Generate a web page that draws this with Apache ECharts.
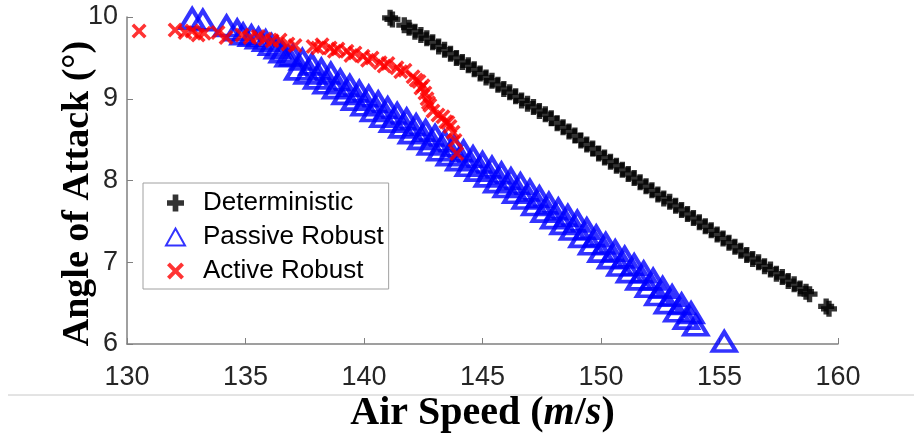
<!DOCTYPE html>
<html>
<head>
<meta charset="utf-8" />
<script src="https://cdn.jsdelivr.net/npm/echarts@6/dist/echarts.min.js"></script>
<style>
    html, body, #main { width: 914px; height: 439px; margin: 0; padding: 0; background: #fff; }
</style>
</head>
<body>
<div id="main"></div>
<script>
    var seriesNames = ['Deterministic', 'Passive Robust', 'Active Robust'];
    var xTicks = [130, 135, 140, 145, 150, 155, 160];
    var yTicks = [6, 7, 8, 9, 10];

    // values, [air speed, angle of attack]
    var deterministic = [
        [141.10, 9.99], [141.20, 9.97], [141.70, 9.90], [141.90, 9.87], [142.15, 9.82],
        [142.40, 9.78], [142.65, 9.74], [142.90, 9.69], [143.15, 9.64], [143.40, 9.60],
        [143.65, 9.55], [143.90, 9.50], [144.15, 9.45], [144.40, 9.41], [144.65, 9.36],
        [144.90, 9.31], [145.15, 9.26], [145.40, 9.22], [145.65, 9.17], [145.90, 9.12],
        [146.15, 9.08], [146.40, 9.03], [146.65, 8.98], [146.90, 8.94], [147.15, 8.90],
        [147.40, 8.85], [147.65, 8.81], [147.90, 8.76], [148.15, 8.70], [148.40, 8.65],
        [148.65, 8.60], [148.90, 8.55], [149.15, 8.49], [149.40, 8.44], [149.65, 8.39],
        [149.90, 8.33], [150.15, 8.28], [150.40, 8.23], [150.65, 8.18], [150.90, 8.13],
        [151.15, 8.08], [151.40, 8.03], [151.65, 7.98], [151.90, 7.93], [152.15, 7.88],
        [152.40, 7.83], [152.65, 7.78], [152.90, 7.74], [153.15, 7.69], [153.40, 7.64],
        [153.65, 7.59], [153.90, 7.54], [154.15, 7.49], [154.40, 7.44], [154.65, 7.39],
        [154.90, 7.34], [155.15, 7.29], [155.40, 7.24], [155.65, 7.19], [155.90, 7.14],
        [156.15, 7.09], [156.40, 7.04], [156.65, 7.00], [156.90, 6.95], [157.15, 6.91],
        [157.40, 6.86], [157.65, 6.82], [157.90, 6.77], [158.15, 6.73], [158.40, 6.68],
        [158.65, 6.64], [158.80, 6.61], [159.50, 6.46], [159.62, 6.43]
    ];

    var passiveRobust = [
        [132.75, 9.98], [133.20, 9.96], [134.20, 9.89], [134.65, 9.84], [134.90, 9.79],
        [135.25, 9.77], [135.55, 9.74], [135.85, 9.71], [136.10, 9.66], [136.35, 9.62],
        [136.55, 9.57], [136.80, 9.52],
        [137.0, 9.53], [137.2, 9.36], [137.4, 9.48], [137.6, 9.31], [137.8, 9.42],
        [138.0, 9.25], [138.2, 9.36], [138.4, 9.19], [138.6, 9.31], [138.8, 9.13],
        [139.0, 9.23], [139.2, 9.06], [139.4, 9.16], [139.6, 8.99], [139.8, 9.09],
        [140.0, 8.92], [140.2, 9.03], [140.4, 8.85], [140.6, 8.96], [140.8, 8.78],
        [141.0, 8.89], [141.2, 8.72], [141.4, 8.82], [141.6, 8.65], [141.8, 8.75],
        [142.0, 8.58], [142.2, 8.68], [142.4, 8.51], [142.6, 8.61], [142.8, 8.44],
        [143.0, 8.55], [143.2, 8.37], [143.4, 8.48], [143.6, 8.31], [143.8, 8.42],
        [144.0, 8.25], [144.2, 8.36], [144.4, 8.18], [144.6, 8.29], [144.8, 8.12],
        [145.0, 8.22], [145.2, 8.05], [145.4, 8.16], [145.6, 7.98], [145.8, 8.09],
        [146.0, 7.92], [146.2, 8.02], [146.4, 7.85], [146.6, 7.96], [146.8, 7.78],
        [147.0, 7.88], [147.2, 7.70], [147.4, 7.80], [147.6, 7.62], [147.8, 7.72],
        [148.0, 7.54], [148.2, 7.65], [148.4, 7.47], [148.6, 7.57], [148.8, 7.40],
        [149.0, 7.50], [149.2, 7.31], [149.4, 7.41], [149.6, 7.22], [149.8, 7.32],
        [150.0, 7.13], [150.2, 7.23], [150.4, 7.05], [150.6, 7.14], [150.8, 6.96],
        [151.0, 7.06], [151.2, 6.88], [151.4, 6.97], [151.6, 6.79], [151.8, 6.88],
        [152.0, 6.70], [152.2, 6.79], [152.4, 6.60], [152.6, 6.69], [152.8, 6.50],
        [153.0, 6.59], [153.2, 6.40], [153.4, 6.49], [153.6, 6.31], [153.8, 6.38],
        [154.0, 6.23],
        [155.20, 6.03]
    ];

    var activeRobust = [
        [130.51, 9.83], [132.03, 9.84], [132.45, 9.81], [132.74, 9.83], [133.00, 9.78],
        [133.25, 9.80], [133.84, 9.81], [134.18, 9.75], [134.85, 9.78], [135.19, 9.75],
        [135.53, 9.76], [135.82, 9.73], [136.12, 9.71], [136.46, 9.72], [136.79, 9.67],
        [137.09, 9.65], [137.85, 9.64], [138.05, 9.62], [138.23, 9.66], [138.57, 9.62],
        [138.75, 9.58], [138.90, 9.61], [139.28, 9.58], [139.45, 9.53], [139.62, 9.56],
        [139.96, 9.52], [140.15, 9.47], [140.34, 9.50], [140.68, 9.44], [140.85, 9.40],
        [141.01, 9.43], [141.39, 9.38], [141.55, 9.33], [141.73, 9.35], [142.07, 9.27],
        [142.20, 9.23], [142.32, 9.21], [142.40, 9.13], [142.49, 9.16], [142.57, 9.07],
        [142.66, 9.00], [142.72, 8.95], [142.78, 8.92], [142.91, 8.85], [143.12, 8.80],
        [143.33, 8.78], [143.45, 8.72], [143.54, 8.71], [143.63, 8.66], [143.76, 8.59],
        [143.84, 8.49], [143.92, 8.33]
    ];

    var plusPath = 'path://M4,0H8V4H12V8H8V12H4V8H0V4H4Z';
    var crossPath = 'path://M2,0L6,4L10,0L12,2L8,6L12,10L10,12L6,8L2,12L0,10L4,6L0,2Z';

    var chart = echarts.init(document.getElementById('main'));

    chart.setOption({
        animation: false,
        grid: { left: 127, right: 76, top: 17, bottom: 91 },
        legend: {
            orient: 'vertical',
            left: 143,
            top: 183,
            padding: [7, 5, 5, 22],
            itemGap: 8,
            itemWidth: 19,
            itemHeight: 17,
            borderColor: '#a0a0a0',
            borderWidth: 1,
            textStyle: { fontFamily: 'Liberation Sans', fontSize: 26, color: '#000', padding: [0, 0, 0, 13] },
            data: [
                { name: seriesNames[0], icon: plusPath },
                { name: seriesNames[1], icon: 'triangle' },
                { name: seriesNames[2], icon: crossPath }
            ]
        },
        xAxis: {
            type: 'value',
            min: xTicks[0],
            max: xTicks[xTicks.length - 1],
            interval: 5,
            name: '{b|Air Speed (}{i|m}{b|/}{i|s}{b|)}',
            nameLocation: 'middle',
            nameGap: 50,
            nameMoveOverlap: false,
            nameTextStyle: {
                rich: {
                    b: { fontFamily: 'Liberation Serif', fontWeight: 'bold', fontSize: 40, color: '#000' },
                    i: { fontFamily: 'Liberation Serif', fontStyle: 'italic', fontWeight: 'bold', fontSize: 40, color: '#000' }
                }
            },
            axisLine: { lineStyle: { color: '#808080', width: 1.5 } },
            axisTick: { inside: true, length: 6, lineStyle: { color: '#808080' } },
            axisLabel: { margin: 20, fontFamily: 'Liberation Sans', fontSize: 27, color: '#262626' },
            splitLine: { show: false }
        },
        yAxis: {
            type: 'value',
            min: yTicks[0],
            max: yTicks[yTicks.length - 1],
            interval: 1,
            name: 'Angle of Attack (°)',
            nameLocation: 'middle',
            nameGap: 30,
            nameMoveOverlap: false,
            nameTextStyle: {
                fontFamily: 'Liberation Serif', fontWeight: 'bold', fontSize: 38, color: '#000',
                padding: [0, 26, 0, 0]
            },
            axisLine: { show: true, lineStyle: { color: '#808080', width: 1.5 } },
            axisTick: { show: true, inside: true, length: 6, lineStyle: { color: '#808080' } },
            axisLabel: { margin: 9, fontFamily: 'Liberation Sans', fontSize: 27, color: '#262626' },
            splitLine: { show: false }
        },
        graphic: [{
            type: 'line',
            shape: { x1: 8, y1: 395, x2: 914, y2: 395 },
            style: { stroke: '#c8c8c8', lineWidth: 1 }
        }],
        series: [
            {
                name: seriesNames[0],
                type: 'scatter',
                symbol: plusPath,
                symbolSize: 16,
                itemStyle: { color: '#000' },
                data: deterministic
            },
            {
                name: seriesNames[1],
                type: 'scatter',
                symbol: 'triangle',
                symbolSize: [23, 19],
                itemStyle: { color: 'rgba(0,0,0,0)', borderColor: '#0000ff', borderWidth: 4 },
                data: passiveRobust
            },
            {
                name: seriesNames[2],
                type: 'scatter',
                symbol: crossPath,
                symbolSize: 15,
                itemStyle: { color: '#ff0000' },
                data: activeRobust
            }
        ]
    });
</script>
</body>
</html>
